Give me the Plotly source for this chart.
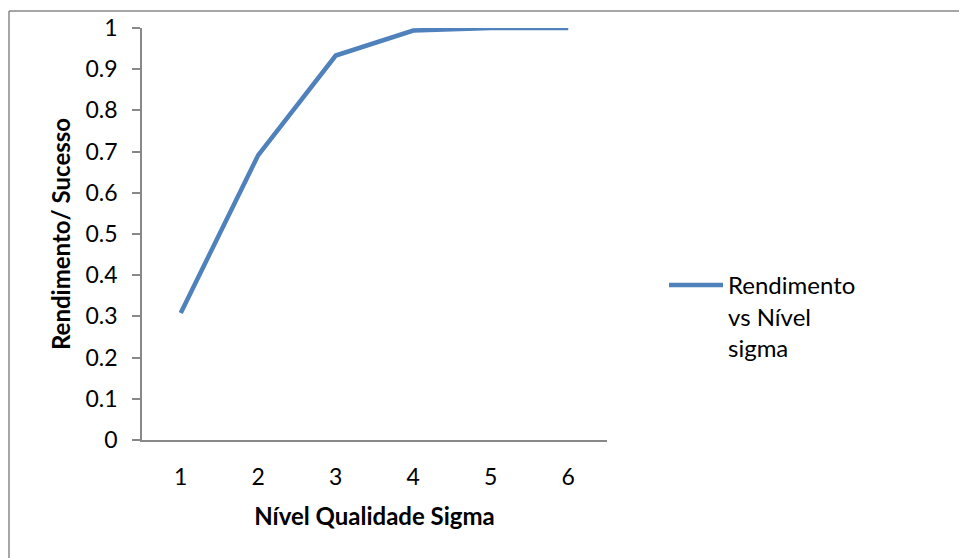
import plotly.graph_objects as go

sigma_levels = ["1", "2", "3", "4", "5", "6"]
rendimento = [0.3085, 0.6915, 0.9332, 0.9938, 0.99977, 0.9999966]
y_ticks = [0, 0.1, 0.2, 0.3, 0.4, 0.5, 0.6, 0.7, 0.8, 0.9, 1]
y_tick_labels = ["0", "0.1", "0.2", "0.3", "0.4", "0.5", "0.6", "0.7", "0.8", "0.9", "1"]
series_name = "Rendimento<br>vs Nível<br>sigma"

W, H = 959, 558
L, R, T, B = 142, 352, 28, 118
pw, ph = W - L - R, H - T - B

def px_x(p):
    return (p - L) / pw

def px_y(p):
    return (H - B - p) / ph

font = "Lato, 'Open Sans', sans-serif"

fig = go.Figure()
fig.add_trace(go.Scatter(
    x=sigma_levels, y=rendimento, mode="lines", name=series_name,
    line=dict(color="#4F81BD", width=4.5),
))

fig.update_layout(
    width=W, height=H,
    margin=dict(l=L, r=R, t=T, b=B),
    paper_bgcolor="white", plot_bgcolor="white",
    font=dict(family=font, size=23, color="black"),
    showlegend=True,
    legend=dict(x=px_x(664), y=px_y(263), xanchor="left", yanchor="top",
                font=dict(size=24, family=font), valign="top", itemwidth=54,
                bgcolor="rgba(0,0,0,0)", tracegroupgap=0),
    xaxis=dict(
        type="category", range=[-0.5, 5.5],
        showline=True, linecolor="#888888", linewidth=1.5,
        ticks="", showgrid=False, zeroline=False,
        tickfont=dict(size=23), ticklabelstandoff=16,
        title=dict(text="<b>Nível Qualidade Sigma</b>", font=dict(size=24), standoff=19),
    ),
    yaxis=dict(
        range=[0, 1], tickvals=y_ticks, ticktext=y_tick_labels,
        showline=True, linecolor="#888888", linewidth=1.5,
        ticks="outside", ticklen=8, tickcolor="#888888", tickwidth=1.5,
        showgrid=False, zeroline=False,
        tickfont=dict(size=23), ticklabelstandoff=10,
        title=dict(text="<b>Rendimento/ Sucesso</b>", font=dict(size=24), standoff=8),
    ),
    shapes=[
        dict(type="line", xref="paper", yref="paper",
             x0=px_x(9), x1=px_x(960), y0=px_y(11), y1=px_y(11),
             line=dict(color="#888888", width=1.5)),
        dict(type="line", xref="paper", yref="paper",
             x0=px_x(9), x1=px_x(9), y0=px_y(11), y1=px_y(560),
             line=dict(color="#888888", width=1.5)),
    ],
)

fig.write_html("out.html")
